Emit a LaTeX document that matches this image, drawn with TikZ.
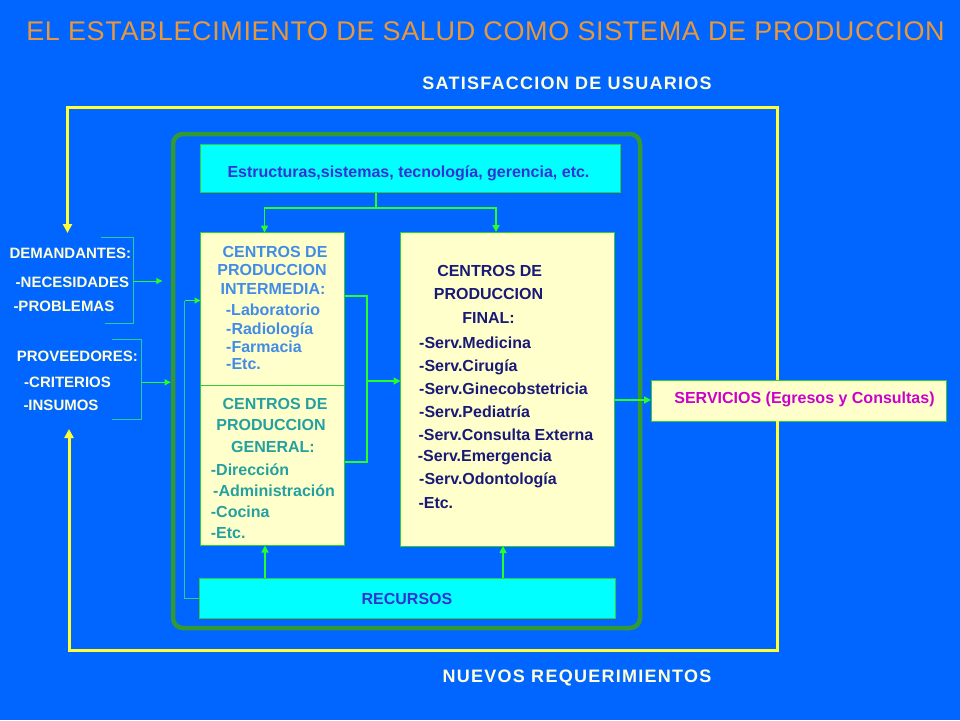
\documentclass[tikz,border=0pt]{standalone}
\usepackage{fontspec}
\setmainfont{Liberation Sans}
\newfontfamily\titlefont[LetterSpace=2.4]{Liberation Sans}
\newfontfamily\headfont[LetterSpace=7]{Liberation Sans}
\usetikzlibrary{arrows.meta}
\definecolor{bgblue}{RGB}{0,102,255}
\definecolor{cyanfill}{RGB}{0,255,255}
\definecolor{paleyellow}{RGB}{255,255,204}
\definecolor{boxborder}{RGB}{51,204,51}
\definecolor{conngreen}{RGB}{40,255,40}
\definecolor{thingreen}{RGB}{40,205,150}
\definecolor{outergreen}{RGB}{51,153,51}
\definecolor{loopyellow}{RGB}{255,255,51}
\definecolor{titleorange}{RGB}{232,152,60}
\definecolor{lbltext}{RGB}{255,255,215}
\definecolor{estrtext}{RGB}{51,51,210}
\definecolor{intertext}{RGB}{66,140,232}
\definecolor{gentext}{RGB}{36,160,160}
\definecolor{finaltext}{RGB}{25,25,120}
\definecolor{servtext}{RGB}{204,0,204}
\begin{document}
\begin{tikzpicture}[x=1pt,y=-1pt,
  boxnode/.style={draw=boxborder, line width=1pt, inner sep=0pt, outer sep=0pt},
  cyanbox/.style={boxnode, fill=cyanfill},
  yelbox/.style={boxnode, fill=paleyellow},
  txt/.style={inner sep=0pt, font=\fontsize{16}{16}\selectfont\bfseries, text height=11.5pt, text depth=0pt},
  ltxt/.style={txt, anchor=west},
  lbl/.style={inner sep=0pt, anchor=west, text=lbltext, font=\fontsize{15}{15}\selectfont\bfseries, text height=10.8pt, text depth=0pt},
  conn/.style={draw=conngreen, line width=1.6pt},
  connarrow/.style={conn, -{Triangle[length=7pt,width=7pt]}},
  thinline/.style={draw=thingreen, line width=1pt},
  looparrow/.style={draw=loopyellow, line width=3pt, -{Triangle[length=9pt,width=9pt]}},
  headtxt/.style={inner sep=0pt, text=lbltext, font=\headfont\fontsize{18}{18}\selectfont\bfseries, text height=12.9pt, text depth=0pt}
]
\useasboundingbox (0,0) rectangle (960,720);
\fill[bgblue] (0,0) rectangle (960,720);

% title and headings
\node[inner sep=0pt, text=titleorange, font=\titlefont\fontsize{27}{27}\selectfont, text height=19.4pt, text depth=0pt] (title) at (485.5,30.3) {EL ESTABLECIMIENTO DE SALUD COMO SISTEMA DE PRODUCCION};
\node[headtxt] (satis) at (567,83.5) {SATISFACCION DE USUARIOS};
\node[headtxt] (nuevos) at (577,676) {NUEVOS REQUERIMIENTOS};

% outer system frame
\node[draw=outergreen, line width=4.5pt, rounded corners=10pt, minimum width=467pt, minimum height=494pt, inner sep=0pt] (system) at (406.5,381) {};

% boxes
\node[cyanbox, minimum width=420pt, minimum height=48pt] (estr) at (410,168.5) {};
\node[yelbox, minimum width=144pt, minimum height=153pt] (inter) at (272.5,309) {};
\node[yelbox, minimum width=144pt, minimum height=160pt] (gen) at (272.5,465.5) {};
\node[yelbox, minimum width=214pt, minimum height=314pt] (final) at (507.5,389) {};
\node[cyanbox, minimum width=416pt, minimum height=40pt] (recursos) at (407,598.3) {};
\node[yelbox, minimum width=295pt, minimum height=41pt] (serv) at (798.5,400.5) {};

% box texts
\node[txt, text=estrtext] (estrtext) at (408.5,172) {Estructuras,sistemas, tecnología, gerencia, etc.};
\node[txt, text=estrtext] (rectext) at (407,599) {RECURSOS};
\node[txt, text=servtext] (servtext) at (804.5,397.5) {SERVICIOS (Egresos y Consultas)};

\node[txt, text=intertext] (i1) at (275,252) {CENTROS DE};
\node[txt, text=intertext] (i2) at (272,270) {PRODUCCION};
\node[txt, text=intertext] (i3) at (273,288.5) {INTERMEDIA:};
\node[ltxt, text=intertext] (i4) at (225.7,309.5) {-Laboratorio};
\node[ltxt, text=intertext] (i5) at (226,328.5) {-Radiología};
\node[ltxt, text=intertext] (i6) at (226,346.5) {-Farmacia};
\node[ltxt, text=intertext] (i7) at (226,364) {-Etc.};

\node[txt, text=gentext] (g1) at (275,403.5) {CENTROS DE};
\node[txt, text=gentext] (g2) at (271,425) {PRODUCCION};
\node[txt, text=gentext] (g3) at (273,447) {GENERAL:};
\node[ltxt, text=gentext] (g4) at (210.7,470) {-Dirección};
\node[ltxt, text=gentext] (g5) at (213,491) {-Administración};
\node[ltxt, text=gentext] (g6) at (210.7,511.5) {-Cocina};
\node[ltxt, text=gentext] (g7) at (210.7,533) {-Etc.};

\node[txt, text=finaltext] (f1) at (489.7,271) {CENTROS DE};
\node[txt, text=finaltext] (f2) at (488.5,294) {PRODUCCION};
\node[txt, text=finaltext] (f3) at (488.5,318) {FINAL:};
\node[ltxt, text=finaltext] (f4) at (419,342.5) {-Serv.Medicina};
\node[ltxt, text=finaltext] (f5) at (419,366) {-Serv.Cirugía};
\node[ltxt, text=finaltext] (f6) at (419,388.5) {-Serv.Ginecobstetricia};
\node[ltxt, text=finaltext] (f7) at (419,411.5) {-Serv.Pediatría};
\node[ltxt, text=finaltext] (f8) at (418.3,435) {-Serv.Consulta Externa};
\node[ltxt, text=finaltext] (f9) at (417.7,456) {-Serv.Emergencia};
\node[ltxt, text=finaltext] (f10) at (419,479) {-Serv.Odontología};
\node[ltxt, text=finaltext] (f11) at (418.3,503) {-Etc.};

% left labels
\node[lbl] (dem) at (9.3,253.5) {DEMANDANTES:};
\node[lbl] (nec) at (15.5,282) {-NECESIDADES};
\node[lbl] (prob) at (13.3,306) {-PROBLEMAS};
\node[lbl] (prov) at (16.7,356) {PROVEEDORES:};
\node[lbl] (crit) at (24,382) {-CRITERIOS};
\node[lbl] (insu) at (23.3,405.5) {-INSUMOS};

% connectors inside the system
\coordinate (split) at (376,208);
\draw[conn] ([xshift=-34pt]estr.south) -- (split);
\draw[connarrow] (split) -| ([xshift=-8pt]inter.north);
\draw[connarrow] (split) -| ([xshift=-11.5pt]final.north);

\coordinate (merge) at (367,381);
\draw[conn] (inter.east |- 0,296) -| (merge) |- (gen.east |- 0,462);
\draw[connarrow] (merge) -- (final.west |- merge);

\draw[connarrow] (final.east |- 0,400) -- (serv.west |- 0,400);

\draw[connarrow] (recursos.north -| 265,0) -- (gen.south -| 265,0);
\draw[connarrow] (recursos.north -| 503,0) -- (final.south -| 503,0);

% thin line from resources to intermediate centres
\coordinate (thincorner) at (184.5,300.5);
\draw[thinline] (recursos.west) -| (thincorner);
\draw[conn, line width=1pt, -{Triangle[length=6pt,width=6pt]}] (thincorner) -- (inter.west |- thincorner);

% input brackets
\coordinate (demtop) at (100.5,237.3);
\coordinate (dembot) at (105,323.3);
\coordinate (demmid) at (133.3,281);
\coordinate (demtip) at (162.3,281);
\draw[thinline] (demtop) -- (demtop -| demmid) -- (dembot -| demmid) -- (dembot);
\draw[conn, line width=1pt, -{Triangle[length=6pt,width=6pt]}] (demmid) -- (demtip);

\coordinate (provtop) at (112,339);
\coordinate (provbot) at (112,419.3);
\coordinate (provmid) at (141.7,382.3);
\coordinate (provtip) at (170.7,382.3);
\draw[thinline] (provtop) -- (provtop -| provmid) -- (provbot -| provmid) -- (provbot);
\draw[conn, line width=1pt, -{Triangle[length=6pt,width=6pt]}] (provmid) -- (provtip);

% yellow feedback loop
\coordinate (looptop) at (777,107);
\coordinate (loopbot) at (777,650.5);
\coordinate (demarrow) at (67.5,233);
\coordinate (insarrow) at (69,429);
\draw[looparrow] ([xshift=-21.5pt]serv.north) -- (looptop) -| (demarrow);
\draw[looparrow] ([xshift=-21.5pt]serv.south) -- (loopbot) -| (insarrow);
\end{tikzpicture}
\end{document}
